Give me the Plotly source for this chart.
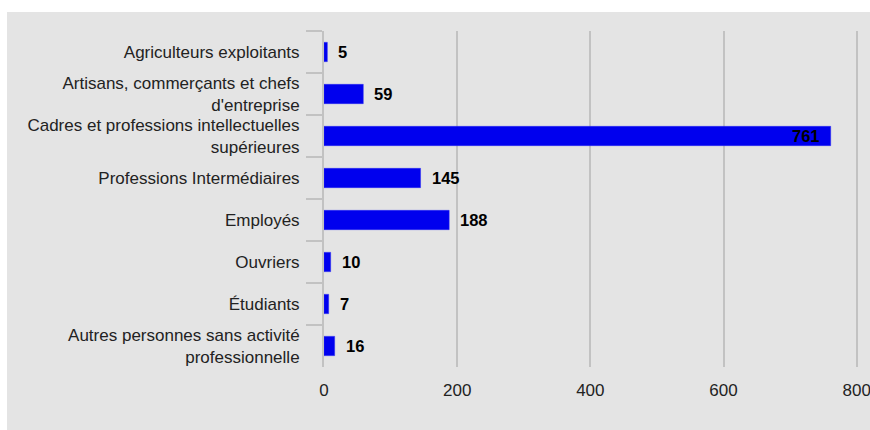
import plotly.graph_objects as go

# Population by socio-professional category
categories = [
    "Agriculteurs exploitants",
    "Artisans, commerçants et chefs<br>d'entreprise",
    "Cadres et professions intellectuelles<br>supérieures",
    "Professions Intermédiaires",
    "Employés",
    "Ouvriers",
    "Étudiants",
    "Autres personnes sans activité<br>professionnelle",
]
values = [5, 59, 761, 145, 188, 10, 7, 16]
x_ticks = [0, 200, 400, 600, 800]

BG = "#e4e4e4"
GRID = "#c2c2c2"
BAR = "#0000ee"
TXT = "#222222"

W, H = 870, 430
L, R, T, B = 324, 10, 31, 63
pw, ph = W - L - R, H - T - B
x_max = x_ticks[-1]
x_hi = 805  # a little headroom so the last gridline and label show

fig = go.Figure(
    go.Bar(
        x=values,
        y=categories,
        orientation="h",
        width=0.46,
        marker=dict(color=BAR, line=dict(color="#2a2af5", width=0.5)),
        hoverinfo="x+y",
    )
)

# value labels: outside the bar, except when the bar nearly fills the axis
for v, c in zip(values, categories):
    inside = v > 0.85 * x_max
    fig.add_annotation(
        x=v, y=c, text=f"<b>{v}</b>", showarrow=False,
        xanchor="right" if inside else "left",
        xshift=-9 if inside else 9,
        font=dict(family="Liberation Sans, Arial", size=16.5, color="#000000"),
    )

# grey panel behind the chart
fig.add_shape(
    type="rect", xref="paper", yref="paper", layer="below",
    x0=(7 - L) / pw, x1=(W + 5 - L) / pw,
    y0=-(H + 5 - (T + ph)) / ph, y1=1 + (T - 12) / ph,
    fillcolor=BG, line=dict(width=0),
)

fig.update_layout(
    width=W, height=H,
    margin=dict(l=L, r=R, t=T, b=B, pad=0, autoexpand=False),
    paper_bgcolor="white",
    plot_bgcolor="rgba(0,0,0,0)",
    font=dict(family="Liberation Sans, Arial", size=17, color=TXT),
    showlegend=False,
)
fig.update_xaxes(
    range=[0, x_hi], tickvals=x_ticks, ticktext=[str(t) for t in x_ticks],
    showgrid=True, gridcolor=GRID, gridwidth=2,
    zeroline=False, showline=False, ticks="",
    ticklabelstandoff=11, tickfont=dict(size=17),
    ticklabeloverflow="allow", automargin=False,
    fixedrange=True,
)
fig.update_yaxes(
    type="category", autorange="reversed",
    tickson="boundaries", ticks="outside", ticklen=16, tickwidth=2,
    tickcolor=GRID, showline=True, linecolor=GRID, linewidth=2,
    showgrid=False, ticklabelstandoff=19, tickfont=dict(size=17),
    automargin=False,
    fixedrange=True,
)

fig.write_html("out.html")
